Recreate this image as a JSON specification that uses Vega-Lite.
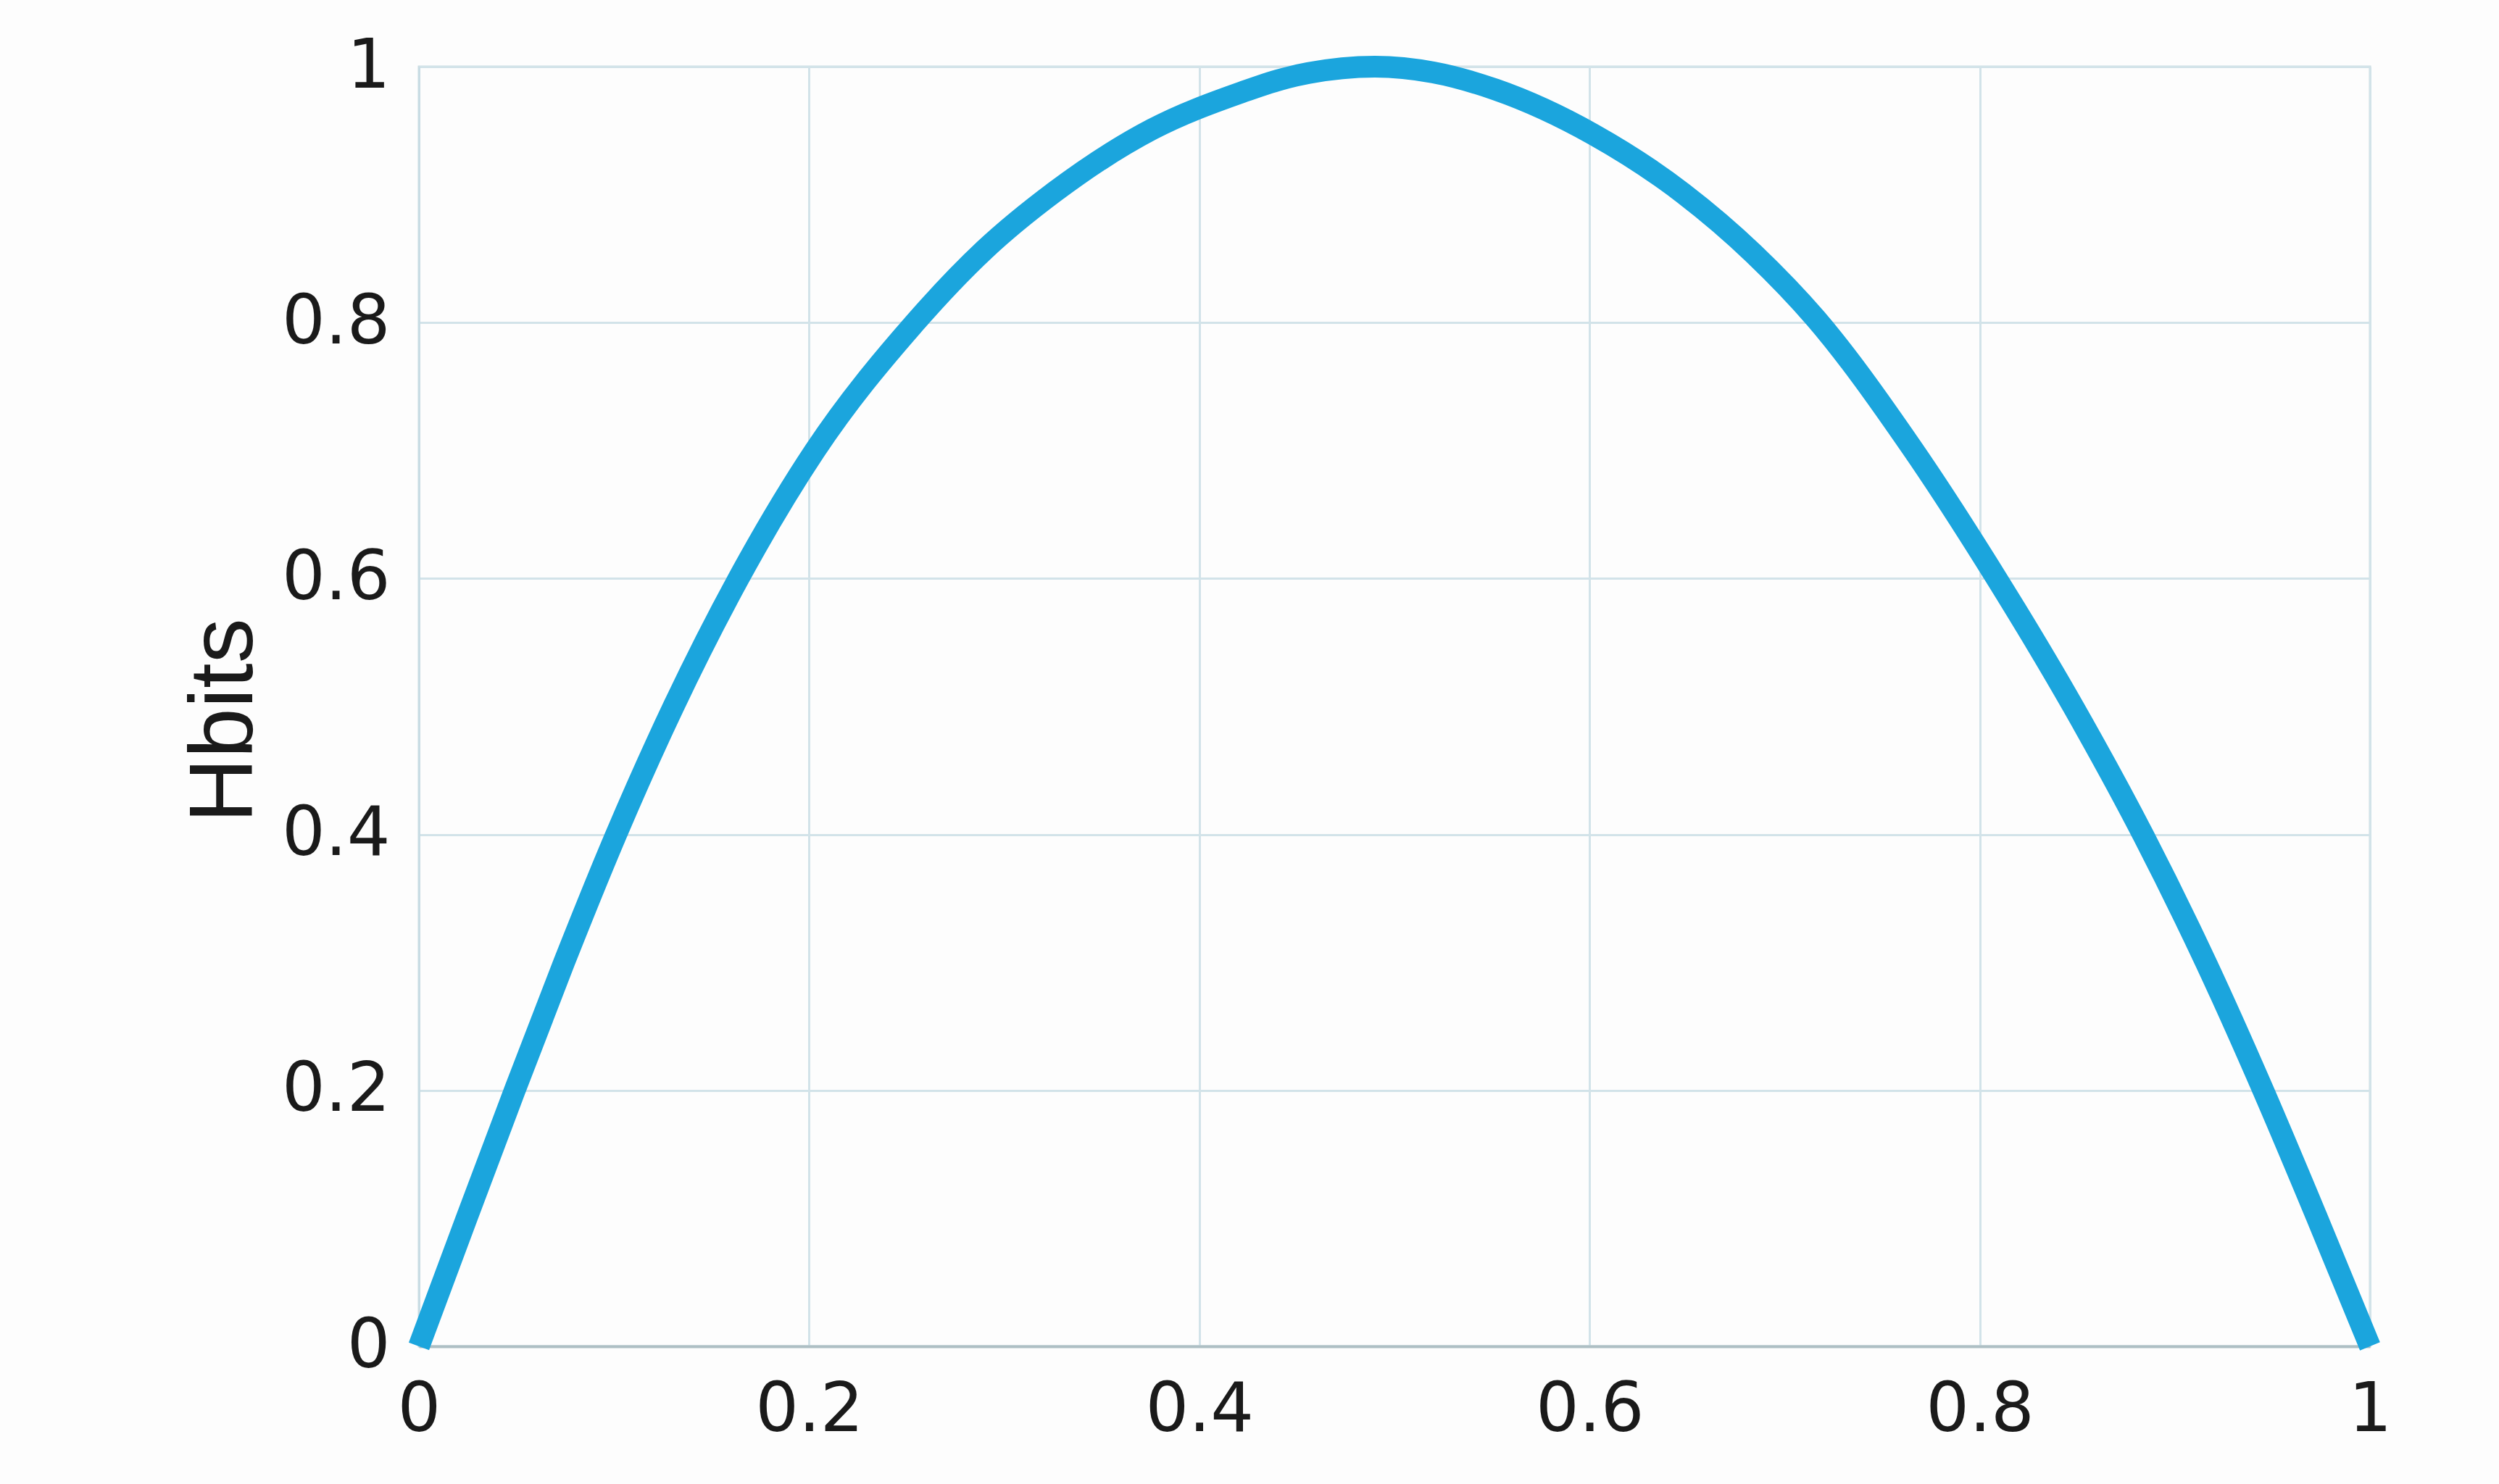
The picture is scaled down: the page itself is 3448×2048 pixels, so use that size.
{
  "$schema": "https://vega.github.io/schema/vega-lite/v6.json",
  "autosize": {"type": "none"},
  "width": 2692,
  "height": 1766,
  "padding": {"left": 578, "top": 92, "right": 178, "bottom": 190},
  "background": "#fdfdfd",
  "data": {
    "values": [
      {"p": 0.0, "H": 0.0},
      {"p": 0.0244, "H": 0.1},
      {"p": 0.0491, "H": 0.2},
      {"p": 0.0744, "H": 0.3},
      {"p": 0.1011, "H": 0.4},
      {"p": 0.1305, "H": 0.5},
      {"p": 0.1638, "H": 0.6},
      {"p": 0.203, "H": 0.7},
      {"p": 0.2543, "H": 0.8},
      {"p": 0.29, "H": 0.857},
      {"p": 0.3257, "H": 0.902},
      {"p": 0.3757, "H": 0.951},
      {"p": 0.4217, "H": 0.98},
      {"p": 0.4417, "H": 0.99},
      {"p": 0.456, "H": 0.995},
      {"p": 0.49, "H": 1.0},
      {"p": 0.52, "H": 0.9955},
      {"p": 0.552, "H": 0.982},
      {"p": 0.602, "H": 0.947},
      {"p": 0.648, "H": 0.901},
      {"p": 0.684, "H": 0.854},
      {"p": 0.716, "H": 0.803},
      {"p": 0.765, "H": 0.7026},
      {"p": 0.808, "H": 0.6016},
      {"p": 0.848, "H": 0.4996},
      {"p": 0.884, "H": 0.3988},
      {"p": 0.916, "H": 0.2996},
      {"p": 0.945, "H": 0.201},
      {"p": 0.973, "H": 0.1},
      {"p": 1.0, "H": 0.0}
    ]
  },
  "mark": {"type": "line", "color": "#1ba5dd", "strokeWidth": 30, "interpolate": "monotone", "strokeCap": "butt", "strokeJoin": "round", "clip": false},
  "encoding": {
    "x": {
      "field": "p",
      "type": "quantitative",
      "scale": {"domain": [0, 1], "nice": false, "zero": false},
      "axis": {
        "title": null,
        "values": [0, 0.2, 0.4, 0.6, 0.8, 1],
        "format": "~g",
        "ticks": false,
        "tickSize": 0,
        "labelPadding": 42,
        "labelDx": 10,
        "labelFont": "DejaVu Sans",
        "labelFontSize": 94,
        "labelColor": "#1a1a1a",
        "labelFlush": false,
        "labelOverlap": false,
        "domain": true,
        "domainColor": "#aebfc4",
        "domainWidth": 4,
        "grid": true,
        "gridColor": "#d2e3e9",
        "gridWidth": 3
      }
    },
    "y": {
      "field": "H",
      "type": "quantitative",
      "scale": {"domain": [0, 1], "nice": false, "zero": true},
      "axis": {
        "title": "Hbits",
        "titleFont": "Liberation Sans",
        "titleFontSize": 124,
        "titleFontWeight": "normal",
        "titleColor": "#1a1a1a",
        "titleAngle": -90,
        "titleAlign": "center",
        "titleBaseline": "alphabetic",
        "titleX": -231,
        "titleY": 902,
        "values": [0, 0.2, 0.4, 0.6, 0.8, 1],
        "format": "~g",
        "ticks": false,
        "tickSize": 0,
        "labelPadding": 40,
        "labelFont": "DejaVu Sans",
        "labelFontSize": 94,
        "labelColor": "#1a1a1a",
        "labelFlush": false,
        "labelOverlap": false,
        "domain": true,
        "domainColor": "#c8dce4",
        "domainWidth": 3,
        "grid": true,
        "gridColor": "#d2e3e9",
        "gridWidth": 3
      }
    }
  },
  "config": {
    "view": {"stroke": "#cadbe1", "strokeWidth": 3}
  }
}
